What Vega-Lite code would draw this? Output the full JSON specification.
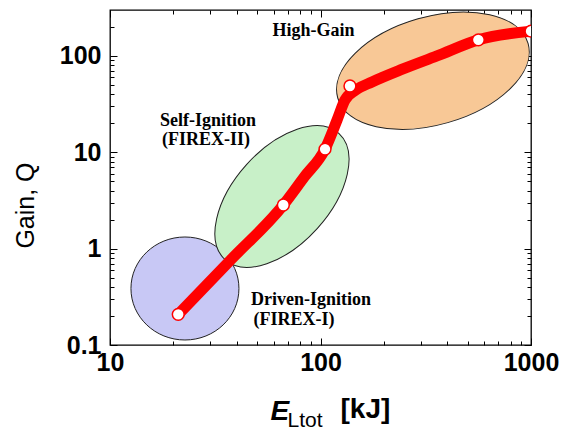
{
  "$schema": "https://vega.github.io/schema/vega-lite/v6.json",
  "width": 421,
  "height": 335,
  "autosize": {"type": "none"},
  "padding": {"left": 110, "top": 10, "right": 32, "bottom": 84},
  "background": "white",
  "config": {
    "view": {"stroke": "black", "strokeWidth": 1.3},
    "axis": {
      "domain": false,
      "grid": false,
      "tickColor": "black",
      "tickWidth": 1,
      "labelColor": "black",
      "labelFont": "Liberation Sans",
      "labelFontWeight": "bold",
      "labelFontSize": 25,
      "labelFlush": false,
      "labelOverlap": false,
      "titleColor": "black",
      "zindex": 1
    }
  },
  "datasets": {
    "regions": [
      {"region": "Driven-Ignition", "E": 22.7, "Q": 0.386},
      {"region": "Self-Ignition", "E": 65.6, "Q": 3.48},
      {"region": "High-Gain", "E": 342, "Q": 70.3}
    ],
    "curve": [
      {"E": 21.1, "Q": 0.208},
      {"E": 37.5, "Q": 0.768},
      {"E": 66.6, "Q": 2.84},
      {"E": 83.7, "Q": 5.54},
      {"E": 105.1, "Q": 10.8},
      {"E": 119.8, "Q": 21.6},
      {"E": 130.7, "Q": 34.9},
      {"E": 147.5, "Q": 44.4},
      {"E": 175.7, "Q": 53.7},
      {"E": 246.6, "Q": 73.3},
      {"E": 357.6, "Q": 100},
      {"E": 562, "Q": 147},
      {"E": 1000, "Q": 181}
    ],
    "points": [
      {"E": 21.1, "Q": 0.208},
      {"E": 66.6, "Q": 2.84},
      {"E": 105.1, "Q": 10.8},
      {"E": 138, "Q": 48.8},
      {"E": 562, "Q": 147},
      {"E": 1000, "Q": 181}
    ],
    "labels": [
      {"text": "High-Gain", "E": 92.6, "Q": 179.5},
      {"text": "Self-Ignition", "E": 29.2, "Q": 21.1},
      {"text": "(FIREX-II)", "E": 28.6, "Q": 13.4},
      {"text": "Driven-Ignition", "E": 90.1, "Q": 0.293},
      {"text": "(FIREX-I)", "E": 74.8, "Q": 0.182}
    ]
  },
  "layer": [
    {
      "data": {"name": "regions"},
      "transform": [{"filter": "datum.region == 'Driven-Ignition'"}],
      "mark": {"type": "point", "shape": "M-54,0A54,51.5,0,1,1,54,0A54,51.5,0,1,1,-54,0Z", "size": 4, "filled": true, "fill": "#c8c8f5", "stroke": "#222222", "strokeWidth": 1, "opacity": 1},
      "encoding": {
        "x": {"field": "E", "type": "quantitative", "scale": {"type": "log", "domain": [10, 1000], "nice": false},
          "axis": {"orient": "bottom", "values": [10, 100, 1000], "tickSize": -7, "labelPadding": 12, "labelExpr": "'' + datum.value",
            "title": "E", "titleFont": "Liberation Sans", "titleFontStyle": "italic", "titleFontWeight": "bold", "titleFontSize": 28,
            "titleX": 160, "titleY": 74, "titleAlign": "left", "titleBaseline": "alphabetic"}},
        "y": {"field": "Q", "type": "quantitative", "scale": {"type": "log", "domain": [0.1, 300], "nice": false},
          "axis": {"orient": "left", "values": [0.1, 1, 10, 100], "tickSize": -7, "labelPadding": 16, "labelExpr": "'' + datum.value",
            "title": "Gain, Q", "titleFont": "Liberation Sans", "titleFontWeight": "normal", "titleFontSize": 25,
            "titleX": -85, "titleY": 195, "titleAngle": -90, "titleAlign": "center", "titleBaseline": "middle"}}
      }
    },
    {
      "data": {"name": "regions"},
      "transform": [{"filter": "datum.region == 'Self-Ignition'"}],
      "mark": {"type": "point", "shape": "M-85,0A85,47.7,0,1,1,85,0A85,47.7,0,1,1,-85,0Z", "size": 4, "angle": -48, "filled": true, "fill": "#c8f0c8", "stroke": "#222222", "strokeWidth": 1, "opacity": 1},
      "encoding": {
        "x": {"field": "E", "type": "quantitative", "scale": {"type": "log", "domain": [10, 1000], "nice": false},
          "axis": {"orient": "bottom", "values": [20, 30, 40, 50, 60, 70, 80, 90, 200, 300, 400, 500, 600, 700, 800, 900], "tickSize": -4, "labels": false,
            "title": "Ltot", "titleFont": "Liberation Sans", "titleFontWeight": "normal", "titleFontSize": 21,
            "titleX": 177, "titleY": 81, "titleAlign": "left", "titleBaseline": "alphabetic"}},
        "y": {"field": "Q", "type": "quantitative", "scale": {"type": "log", "domain": [0.1, 300], "nice": false},
          "axis": {"orient": "left", "values": [0.2, 0.3, 0.4, 0.5, 0.6, 0.7, 0.8, 0.9, 2, 3, 4, 5, 6, 7, 8, 9, 20, 30, 40, 50, 60, 70, 80, 90, 200], "tickSize": -4, "labels": false, "title": null}}
      }
    },
    {
      "data": {"name": "regions"},
      "transform": [{"filter": "datum.region == 'High-Gain'"}],
      "mark": {"type": "point", "shape": "M-99,0A99,54,0,1,1,99,0A99,54,0,1,1,-99,0Z", "size": 4, "angle": -16, "filled": true, "fill": "#f8c896", "stroke": "#222222", "strokeWidth": 1, "opacity": 1},
      "encoding": {
        "x": {"field": "E", "type": "quantitative", "scale": {"type": "log", "domain": [10, 1000], "nice": false},
          "axis": {"orient": "top", "values": [10, 100, 1000], "tickSize": -7, "labels": false,
            "title": "[kJ]", "titleFont": "Liberation Sans", "titleFontWeight": "bold", "titleFontSize": 28,
            "titleX": 230, "titleY": 407, "titleAlign": "left", "titleBaseline": "alphabetic"}},
        "y": {"field": "Q", "type": "quantitative", "scale": {"type": "log", "domain": [0.1, 300], "nice": false},
          "axis": {"orient": "right", "values": [0.1, 1, 10, 100], "tickSize": -7, "labels": false, "title": null}}
      }
    },
    {
      "data": {"name": "curve"},
      "mark": {"type": "line", "color": "#ff0000", "strokeWidth": 11, "interpolate": "monotone", "strokeCap": "butt", "clip": true},
      "encoding": {
        "x": {"field": "E", "type": "quantitative", "scale": {"type": "log", "domain": [10, 1000], "nice": false},
          "axis": {"orient": "top", "values": [20, 30, 40, 50, 60, 70, 80, 90, 200, 300, 400, 500, 600, 700, 800, 900], "tickSize": -4, "labels": false, "title": null}},
        "y": {"field": "Q", "type": "quantitative", "scale": {"type": "log", "domain": [0.1, 300], "nice": false},
          "axis": {"orient": "right", "values": [0.2, 0.3, 0.4, 0.5, 0.6, 0.7, 0.8, 0.9, 2, 3, 4, 5, 6, 7, 8, 9, 20, 30, 40, 50, 60, 70, 80, 90, 200], "tickSize": -4, "labels": false, "title": null}}
      }
    },
    {
      "data": {"name": "points"},
      "mark": {"type": "point", "shape": "circle", "size": 140, "filled": true, "fill": "white", "stroke": "#ff0000", "strokeWidth": 1.5, "opacity": 1, "clip": true},
      "encoding": {
        "x": {"field": "E", "type": "quantitative", "scale": {"type": "log", "domain": [10, 1000], "nice": false}, "axis": null},
        "y": {"field": "Q", "type": "quantitative", "scale": {"type": "log", "domain": [0.1, 300], "nice": false}, "axis": null}
      }
    },
    {
      "data": {"name": "labels"},
      "mark": {"type": "text", "font": "Liberation Serif", "fontWeight": "bold", "fontSize": 18, "color": "black", "align": "center", "baseline": "middle"},
      "encoding": {
        "x": {"field": "E", "type": "quantitative", "scale": {"type": "log", "domain": [10, 1000], "nice": false}, "axis": null},
        "y": {"field": "Q", "type": "quantitative", "scale": {"type": "log", "domain": [0.1, 300], "nice": false}, "axis": null},
        "text": {"field": "text"}
      }
    }
  ],
  "resolve": {"axis": {"x": "independent", "y": "independent"}}
}
